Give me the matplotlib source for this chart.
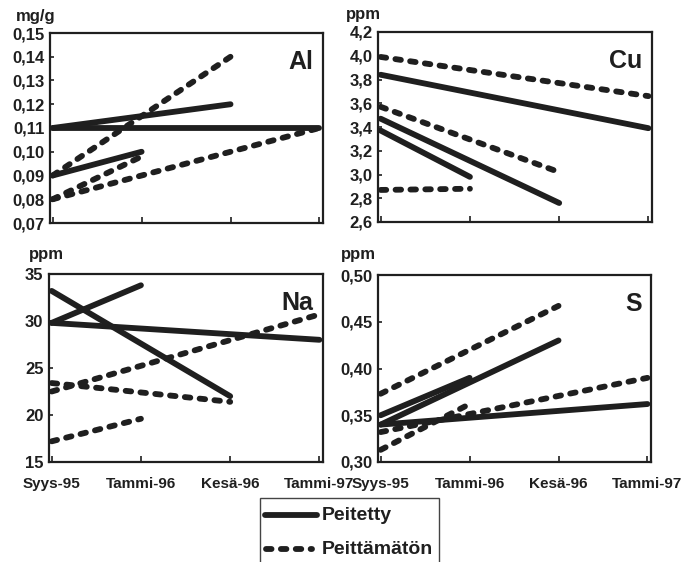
import matplotlib
matplotlib.use("Agg")
import matplotlib.pyplot as plt
from matplotlib.patches import Rectangle

plt.rcParams['font.family'] = ['Liberation Sans', 'DejaVu Sans']
plt.rcParams['font.weight'] = 'bold'

INK = '#1f1f1f'

# sampling dates (x positions 0..3)
dates = ['Syys-95', 'Tammi-96', 'Kesä-96', 'Tammi-97']

# each series: (start, end value, index of end date)
al_peitetty = [(0.11, 0.11, 3), (0.11, 0.12, 2), (0.09, 0.10, 1)]
al_peittamaton = [(0.09, 0.14, 2), (0.08, 0.098, 1), (0.08, 0.11, 3)]

cu_peitetty = [(3.84, 3.39, 3), (3.47, 2.76, 2), (3.37, 2.98, 1)]
cu_peittamaton = [(3.99, 3.66, 3), (3.57, 3.02, 2), (2.87, 2.88, 1)]

na_peitetty = [(29.8, 33.8, 1), (33.2, 22.0, 2), (29.8, 28.0, 3)]
na_peittamaton = [(22.5, 30.7, 3), (23.4, 21.4, 2), (17.2, 19.6, 1)]

s_peitetty = [(0.35, 0.39, 1), (0.34, 0.43, 2), (0.34, 0.362, 3)]
s_peittamaton = [(0.373, 0.467, 2), (0.332, 0.39, 3), (0.313, 0.362, 1)]

panels = [
    # name, unit, solid, dotted, ylim, yticks, decimals
    ('Al', 'mg/g', al_peitetty, al_peittamaton, (0.07, 0.15),
     [0.07, 0.08, 0.09, 0.10, 0.11, 0.12, 0.13, 0.14, 0.15], 2),
    ('Cu', 'ppm', cu_peitetty, cu_peittamaton, (2.6, 4.2),
     [2.6, 2.8, 3.0, 3.2, 3.4, 3.6, 3.8, 4.0, 4.2], 1),
    ('Na', 'ppm', na_peitetty, na_peittamaton, (15, 35),
     [15, 20, 25, 30, 35], 0),
    ('S', 'ppm', s_peitetty, s_peittamaton, (0.30, 0.50),
     [0.30, 0.35, 0.40, 0.45, 0.50], 2),
]

W, H = 697, 562
fig = plt.figure(figsize=(W / 100, H / 100), dpi=100)

# axes boxes in pixels: left, top, right, bottom
boxes = [(50, 33, 323, 223), (378, 32, 652, 222),
         (49, 274, 323, 462), (378, 275, 651, 462)]
unit_pos = [(16, 17), (346, 15), (29, 255), (341, 255)]

solid_kw = dict(color=INK, lw=4.2, solid_capstyle='round')
dot_kw = dict(color=INK, lw=4.2, linestyle=(0, (0.95, 1.6)), dash_capstyle='round')

for i, (name, unit, solid, dotted, ylim, yt, dec) in enumerate(panels):
    l, t, r, b = boxes[i]
    ax = fig.add_axes([l / W, 1 - b / H, (r - l) / W, (b - t) / H])
    for y0, y1, k in dotted:
        ax.plot([0, k], [y0, y1], **dot_kw)
    for y0, y1, k in solid:
        ax.plot([0, k], [y0, y1], **solid_kw)
    ax.set_xlim(-0.03, 3.04)
    ax.set_ylim(*ylim)
    ax.set_xticks(range(len(dates)))
    ax.set_yticks(yt)
    ax.set_yticklabels([f'{v:.{dec}f}'.replace('.', ',') for v in yt])
    if i >= 2:
        ax.set_xticklabels(dates, fontsize=11, color=INK)
    else:
        ax.set_xticklabels([])
    ax.tick_params(axis='x', direction='in', length=4, width=1.2, pad=11, color=INK)
    ax.tick_params(axis='y', direction='in', length=3, width=1.2, pad=4,
                   labelsize=12, labelcolor=INK, color=INK)
    for sp in ax.spines.values():
        sp.set_linewidth(1.6)
        sp.set_color(INK)
    ax.text(0.965, 0.845, name, transform=ax.transAxes, ha='right', va='center',
            fontsize=18, fontweight='bold', color=INK)
    ux, uy = unit_pos[i]
    fig.text(ux / W, 1 - uy / H, unit, ha='left', va='center',
             fontsize=12, fontweight='bold', color=INK)

# legend box runs past the bottom edge
fig.patches.append(Rectangle((260 / W, 1 - 575 / H), 179 / W, 77 / H,
                             transform=fig.transFigure, fill=False,
                             edgecolor='#444444', lw=1.0))
fig.add_artist(plt.Line2D([265 / W, 317 / W], [1 - 515 / H, 1 - 515 / H],
                          transform=fig.transFigure, **solid_kw))
fig.add_artist(plt.Line2D([266 / W, 312 / W], [1 - 549 / H, 1 - 549 / H],
                          transform=fig.transFigure, **dot_kw))
fig.text(322 / W, 1 - 515 / H, 'Peitetty', ha='left', va='center',
         fontsize=14, fontweight='bold', color=INK)
fig.text(322 / W, 1 - 549 / H, 'Peittämätön', ha='left', va='center',
         fontsize=14, fontweight='bold', color=INK)

fig.savefig('out.png', dpi=100)
